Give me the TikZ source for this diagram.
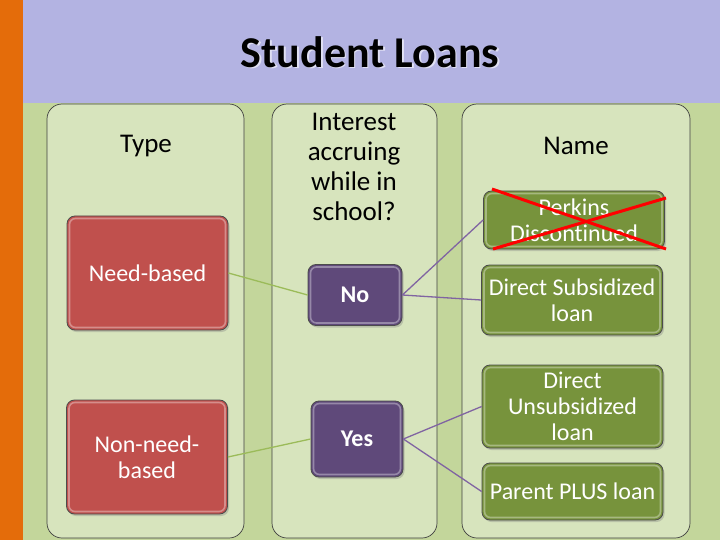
\documentclass[tikz,border=0pt]{standalone}
\usepackage{fontspec}
\setmainfont{Carlito}[Ligatures=NoCommon]
\usetikzlibrary{shadows}
\definecolor{orangebar}{HTML}{E46C0A}
\definecolor{headerbg}{HTML}{B3B3E2}
\definecolor{greenbg}{HTML}{C3D69B}
\definecolor{colfill}{HTML}{D7E4BD}
\definecolor{redbox}{HTML}{C0504D}
\definecolor{purplebox}{HTML}{5F497A}
\definecolor{greenbox}{HTML}{77933C}
\definecolor{greenline}{HTML}{9BBB59}
\definecolor{purpleline}{HTML}{8064A2}
\tikzset{
  column/.style={draw=black!75, line width=0.7pt, fill=colfill, rounded corners=15pt},
  hdr/.style={align=center, font=\fontsize{27}{30}\selectfont, text=black},
  boxbase/.style={draw=black!70, line width=0.8pt, rounded corners=8pt, text=white, align=center,
     inner sep=2pt, drop shadow={shadow xshift=1.5pt, shadow yshift=-2pt, opacity=0.35},
     path picture={\draw[white, opacity=0.35, line width=1.6pt, rounded corners=6pt]
        ([shift={(2.5pt,-2.5pt)}]path picture bounding box.north west) rectangle
        ([shift={(-2.5pt,2.5pt)}]path picture bounding box.south east);}},
  typebox/.style={boxbase, fill=redbox, minimum width=161pt, minimum height=114pt, font=\fontsize{24}{26}\selectfont},
  ansbox/.style={boxbase, fill=purplebox, font=\bfseries\fontsize{24}{26}\selectfont},
  namebox/.style={boxbase, fill=greenbox, font=\fontsize{24}{26}\selectfont, minimum width=181pt},
  gline/.style={greenline, line width=1.3pt},
  pline/.style={purpleline, line width=1.3pt},
}
\begin{document}
\begin{tikzpicture}[x=1pt, y=-1pt]
\useasboundingbox (0,0) rectangle (720,540);
% backgrounds
\fill[greenbg] (0,0) rectangle (720,540);
\fill[headerbg] (23,0) rectangle (720,103);
\fill[orangebar] (0,0) rectangle (23,540);
\node[font=\bfseries\fontsize{44}{48}\selectfont, text=white, opacity=0.6] at (371.5,53.5) {Student Loans};
\node[font=\bfseries\fontsize{44}{48}\selectfont, text=black] (title) at (370,52) {Student Loans};
% columns
\draw[column] (47,104) rectangle (244,538);
\draw[column] (272,104) rectangle (437,538);
\draw[column] (462,104) rectangle (690,538);
% headers
\node[hdr] (htype) at (146,146) {Type};
\node[hdr] (hint) at (354,167) {Interest\\accruing\\while in\\school?};
\node[hdr] (hname) at (576,146) {Name};
% type boxes
\node[typebox] (need) at (147.5,273) {Need-based};
\node[typebox] (nonneed) at (147,457) {Non-need-\\based};
% answer boxes
\node[ansbox, minimum width=94pt, minimum height=61pt] (no) at (355,295) {No};
\node[ansbox, minimum width=92pt, minimum height=76pt] (yes) at (357,439) {Yes};
% name boxes
\node[namebox, minimum height=58pt] (perkins) at (574,220) {Perkins\\Discontinued};
\node[namebox, minimum height=70pt] (dsub) at (572,300) {Direct Subsidized\\loan};
\node[namebox, minimum height=83pt] (dunsub) at (572.5,406.5) {Direct\\Unsubsidized\\loan};
\node[namebox, minimum height=57pt] (plus) at (572.5,491.5) {Parent PLUS loan};
% red cross
\draw[red, line width=3pt] (492,189) -- (666,249);
\draw[red, line width=3pt] (493,249) -- (666,198);
% connectors
\draw[gline] (need.east) -- (no.west);
\draw[gline] (nonneed.east) -- (yes.west);
\draw[pline] (no.east) -- (perkins.west);
\draw[pline] (no.east) -- (dsub.west);
\draw[pline] (yes.east) -- (dunsub.west);
\draw[pline] (yes.east) -- (plus.west);
\end{tikzpicture}
\end{document}
